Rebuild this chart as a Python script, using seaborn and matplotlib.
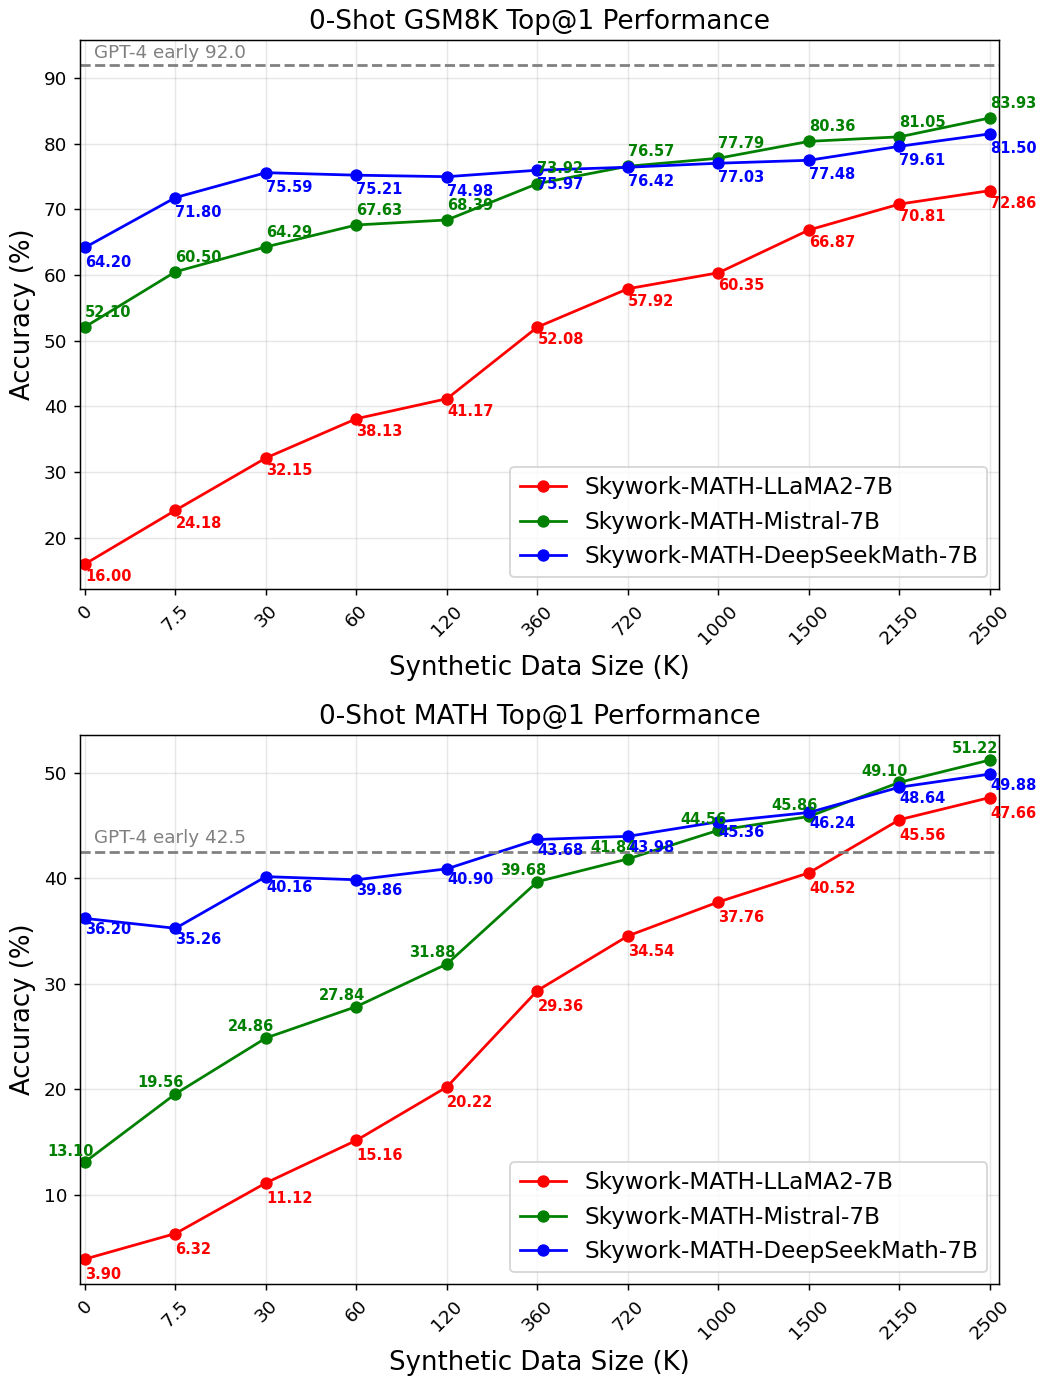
import numpy as np
import pandas as pd
import matplotlib
matplotlib.use("Agg")
import matplotlib.pyplot as plt
import seaborn as sns

# ---------------- data ----------------
x_labels = ['0', '7.5', '30', '60', '120', '360', '720', '1000', '1500', '2150', '2500']
series_names = ['Skywork-MATH-LLaMA2-7B', 'Skywork-MATH-Mistral-7B', 'Skywork-MATH-DeepSeekMath-7B']
series_colors = ['red', 'green', 'blue']

gsm8k_llama2 = [16.00, 24.18, 32.15, 38.13, 41.17, 52.08, 57.92, 60.35, 66.87, 70.81, 72.86]
gsm8k_mistral = [52.10, 60.50, 64.29, 67.63, 68.39, 73.92, 76.57, 77.79, 80.36, 81.05, 83.93]
gsm8k_deepseek = [64.20, 71.80, 75.59, 75.21, 74.98, 75.97, 76.42, 77.03, 77.48, 79.61, 81.50]

math_llama2 = [3.90, 6.32, 11.12, 15.16, 20.22, 29.36, 34.54, 37.76, 40.52, 45.56, 47.66]
math_mistral = [13.10, 19.56, 24.86, 27.84, 31.88, 39.68, 41.84, 44.56, 45.86, 49.10, 51.22]
math_deepseek = [36.20, 35.26, 40.16, 39.86, 40.90, 43.68, 43.98, 45.36, 46.24, 48.64, 49.88]

gsm8k_ref = 92.0
math_ref = 42.5
ref_label = 'GPT-4 early'

titles = ['0-Shot GSM8K Top@1 Performance', '0-Shot MATH Top@1 Performance']

# ---------------- figure ----------------
DPI = 132
fig, axes = plt.subplots(2, 1, figsize=(1041 / DPI, 1378 / DPI), dpi=DPI)
fig.subplots_adjust(left=0.0768, right=0.9597, top=0.971, bottom=0.0682, hspace=0.266)

positions = np.arange(len(x_labels))

panels = [
    (axes[0], [gsm8k_llama2, gsm8k_mistral, gsm8k_deepseek], gsm8k_ref, titles[0],
     # (dx, dy, ha) label offsets in points per series
     [(0, -7, 'left'), (0, 8, 'left'), (0, -8, 'left')]),
    (axes[1], [math_llama2, math_mistral, math_deepseek], math_ref, titles[1],
     [(0, -8.5, 'left'), (-8, 6, 'center'), (0, -6, 'left')]),
]

for ax, data, ref, title, offsets in panels:
    for vals, name, col, (dx, dy, ha) in zip(data, series_names, series_colors, offsets):
        df = pd.DataFrame({'pos': positions, 'acc': vals})
        sns.lineplot(data=df, x='pos', y='acc', ax=ax, color=col, marker='o',
                     markersize=6, markeredgecolor=col, markerfacecolor=col,
                     linewidth=1.5, label=name)
        for p, v in zip(positions, vals):
            ax.annotate(f'{v:.2f}', (p, v), textcoords='offset points', xytext=(dx, dy),
                        ha=ha, va='center', fontsize=8, fontweight='bold', color=col)
    ax.axhline(ref, color='gray', linestyle='--', linewidth=1.5)
    ax.text(0.1, ref + 0.5, f'{ref_label} {ref}', color='gray', fontsize=10,
            ha='left', va='bottom')
    ax.set_xlim(-0.055, len(x_labels) - 1 + 0.1)
    ax.set_xticks(positions)
    ax.set_xticklabels(x_labels, rotation=45, fontsize=10)
    ax.tick_params(axis='y', labelsize=10)
    ax.set_xlabel('Synthetic Data Size (K)', fontsize=14.2)
    ax.set_ylabel('Accuracy (%)', fontsize=14.2)
    ax.set_title(title, fontsize=14.4)
    ax.grid(True, alpha=0.3)
    ax.legend(loc='lower right', fontsize=12.6)

fig.savefig('out.png', dpi=DPI)
